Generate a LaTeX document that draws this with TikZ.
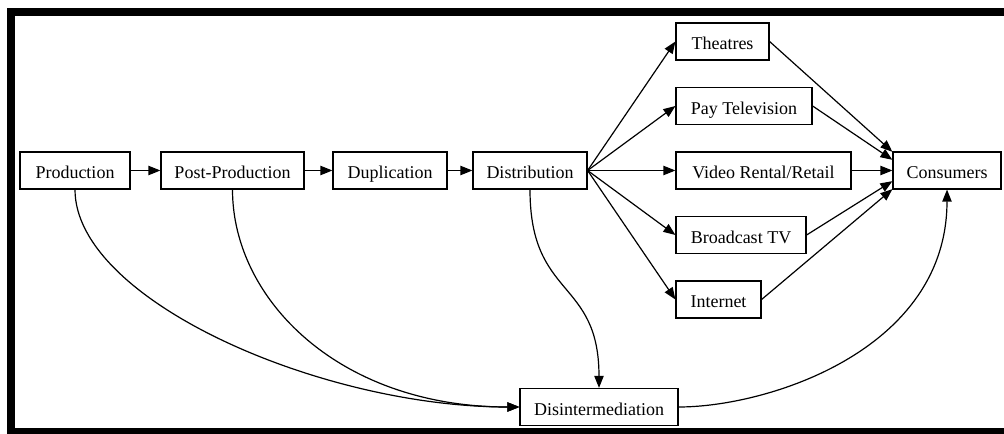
\documentclass[tikz,border=0pt]{standalone}
\usepackage{fontspec}
\setmainfont{Liberation Serif}
\usetikzlibrary{arrows.meta}
\tikzset{
  stage/.style={rectangle,draw,line width=0.9pt,minimum height=27.75pt,inner sep=0pt,
                text height=1.25em,text depth=0em,font=\fontsize{13.5}{15}\selectfont},
  flow/.style={-{Triangle[length=9pt,width=7pt]},line width=0.9pt},
  frame/.style={line width=6pt},
}
\begin{document}
\begin{tikzpicture}[x=0.75pt,y=-0.75pt]
  \useasboundingbox (0,0) rectangle (1004,434);
  \clip (0,0) rectangle (1004,434);
  \draw[frame] (11,12) rectangle (1020,432);

  \node[stage,minimum width=82.5pt] (prod) at (75,170.5) {Production};
  \node[stage,minimum width=107.25pt] (postprod) at (232.5,170.5) {Post-Production};
  \node[stage,minimum width=85.5pt] (dup) at (390,170.5) {Duplication};
  \node[stage,minimum width=85.5pt] (dist) at (530,170.5) {Distribution};
  \node[stage,minimum width=69.75pt] (theatres) at (722.5,41.5) {Theatres};
  \node[stage,minimum width=102pt] (paytv) at (744,106) {Pay Television};
  \node[stage,minimum width=131.25pt] (video) at (763.5,170.5) {Video Rental/Retail};
  \node[stage,minimum width=97.5pt] (broadcast) at (741,235) {Broadcast TV};
  \node[stage,minimum width=63.75pt] (internet) at (718.5,299.5) {Internet};
  \node[stage,minimum width=81pt] (consumers) at (947,170.5) {Consumers};
  \node[stage,minimum width=118.5pt] (disint) at (599,407) {Disintermediation};

  \draw[flow] (prod.east) -- (postprod.west);
  \draw[flow] (postprod.east) -- (dup.west);
  \draw[flow] (dup.east) -- (dist.west);
  \foreach \n in {theatres,paytv,video,broadcast,internet}
    \draw[flow] (dist.east) -- (\n.west);
  \foreach \n/\s in {theatres/14,paytv/8,video/0,broadcast/-8,internet/-14}
    \draw[flow] (\n.east) -- ([yshift=\s pt]consumers.west);

  \draw[flow] (prod.south) .. controls +(0,110) and +(-200,0) .. (disint.west);
  \draw[flow] (postprod.south) .. controls +(0,110) and +(-180,0) .. (disint.west);
  \draw[flow] (dist.south) .. controls +(0,110) and +(0,-110) .. (disint.north);
  \draw[flow] (disint.east) .. controls +(90,0) and +(0,160) .. (consumers.south);
\end{tikzpicture}
\end{document}
